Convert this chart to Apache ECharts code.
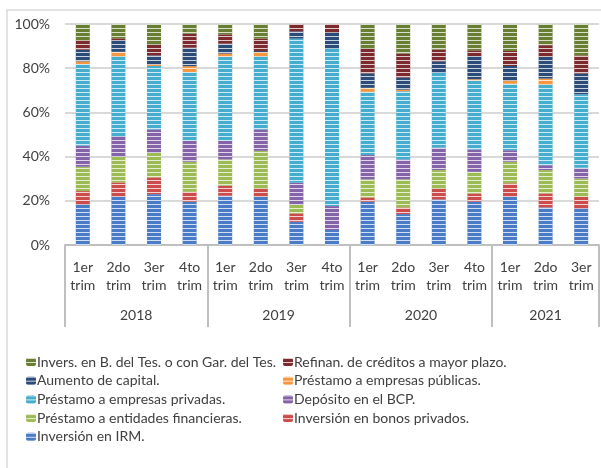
<!DOCTYPE html>
<html><head><meta charset="utf-8">
<script src="https://cdn.jsdelivr.net/npm/echarts@6/dist/echarts.min.js"></script>
<style>html,body{margin:0;padding:0;background:#fff}#c{width:601px;height:468px}</style>
</head><body><div id="c"></div>
<script>
var quarters = ['1er\ntrim','2do\ntrim','3er\ntrim','4to\ntrim','1er\ntrim','2do\ntrim','3er\ntrim','4to\ntrim','1er\ntrim','2do\ntrim','3er\ntrim','4to\ntrim','1er\ntrim','2do\ntrim','3er\ntrim'];
var years = ['2018','2019','2020','2021'];
var yearCounts = [4,4,4,3];
var yTicks = [0,20,40,60,80,100];

var irm      = [18.4,21.8,23.0,19.6,22.3,21.8,10.5, 6.8,19.6,14.0,20.6,19.6,21.8,17.0,16.6];
var bonos    = [ 6.0, 6.5, 7.6, 4.5, 4.5, 3.8, 3.8, 0.0, 1.9, 3.0, 5.0, 3.7, 6.1, 6.3, 5.2];
var entFin   = [11.0,11.6,11.1,13.6,11.9,17.0, 3.8, 0.0, 8.2,12.7, 8.3, 9.8, 9.8,10.6, 8.3];
var deposito = [ 9.5, 9.3,10.6, 9.4, 8.4, 9.7,10.1,10.8,11.0, 9.0,10.2,10.1, 5.2, 2.2, 4.8];
var privadas = [37.0,36.2,28.7,31.2,38.0,33.1,65.2,71.4,28.6,30.9,33.8,31.0,30.1,36.5,33.3];
var publicas = [ 1.2, 2.0, 0.8, 2.6, 1.5, 1.9, 0.0, 0.0, 1.8, 0.7, 0.0, 0.8, 1.5, 2.7, 0.0];
var aumento  = [ 5.3, 5.3, 4.0, 8.4, 4.5, 0.5, 3.3, 7.2, 6.5, 5.5, 5.2,10.5, 6.5, 9.8, 9.4];
var refinan  = [ 4.2, 0.8, 5.0, 6.3, 4.2, 5.6, 3.3, 3.8,11.3,10.8, 5.3, 2.6, 6.8, 5.3, 8.2];
var invers   = [ 7.4, 6.5, 9.2, 4.4, 4.7, 6.6, 0.0, 0.0,11.1,13.4,11.6,11.9,12.2, 9.6,14.2];

var names = ['Inversión en IRM.','Inversión en bonos privados.','Préstamo a entidades financieras.','Depósito en el BCP.','Préstamo a empresas privadas.','Préstamo a empresas públicas.','Aumento de capital.','Refinan. de créditos a mayor plazo.','Invers. en B. del Tes. o con Gar. del Tes.'];
var values = [irm,bonos,entFin,deposito,privadas,publicas,aumento,refinan,invers];
var colors = ['#4a7bc6','#cc4b4b','#9dbb55','#8463a8','#45aece','#f7963f','#2b4b78','#7c2a2d','#687f33'];

var totals = quarters.map(function(_,i){var s=0;values.forEach(function(v){s+=v[i];});return s;});

var bounds=[0], centers=[], acc=0;
yearCounts.forEach(function(c){centers.push(acc+c/2);acc+=c;bounds.push(acc);});

var FONT = 'Lato';
var series = values.map(function(v,k){
  return {
    name:names[k], type:'bar', stack:'t', barWidth:14, xAxisIndex:0,
    data:v.map(function(x,i){return x/totals[i]*100;}),
    itemStyle:{color:colors[k], decal:{symbol:'rect',symbolSize:1,dashArrayX:[1,0],dashArrayY:[1,2.3],color:'rgba(255,255,255,0.75)'}},
    emphasis:{disabled:true}
  };
});

var chart = echarts.init(document.getElementById('c'));
chart.setOption({
  animation:false,
  textStyle:{fontFamily:FONT},
  graphic:[{type:'rect',shape:{x:7,y:10,width:640,height:500},style:{fill:'none',stroke:'#d9d9d9',lineWidth:1.5},silent:true}],
  grid:{left:65,right:2,top:24,bottom:223},
  xAxis:[{
    type:'category', data:quarters, gridIndex:0,
    axisLine:{lineStyle:{color:'#bfbfbf',width:2}},
    axisTick:{show:false},
    axisLabel:{color:'#404040',fontSize:14,lineHeight:18,margin:13,interval:0,fontFamily:FONT}
  },{
    type:'value', min:0, max:quarters.length, gridIndex:0, position:'bottom',
    axisLine:{show:false}, splitLine:{show:false},
    axisTick:{show:true,customValues:bounds,length:82,lineStyle:{color:'#bfbfbf',width:2}},
    axisLabel:{customValues:centers,margin:63,color:'#404040',fontSize:14,fontFamily:FONT,
      formatter:function(v){var i=centers.indexOf(v);return i>=0?years[i]:'';}}
  }],
  yAxis:{
    type:'value', min:0, max:100, interval:20,
    axisLabel:{formatter:'{value}%',color:'#404040',fontSize:14,margin:15,fontFamily:FONT},
    axisLine:{show:false}, axisTick:{show:false},
    splitLine:{lineStyle:{color:'#d9d9d9',width:2}}
  },
  legend:[{
    orient:'vertical', left:26, top:354, padding:0, itemGap:2.7, itemWidth:10, itemHeight:8,
    data:[names[8],names[6],names[4],names[2],names[0]],
    textStyle:{color:'#404040',fontSize:14,lineHeight:16,fontFamily:FONT,padding:[0,0,0,-4]},
    selectedMode:false
  },{
    orient:'vertical', left:283, top:354, padding:0, itemGap:2.7, itemWidth:10, itemHeight:8,
    data:[names[7],names[5],names[3],names[1]],
    textStyle:{color:'#404040',fontSize:14,lineHeight:16,fontFamily:FONT,padding:[0,0,0,-4]},
    selectedMode:false
  }],
  series:series
});
</script></body></html>
